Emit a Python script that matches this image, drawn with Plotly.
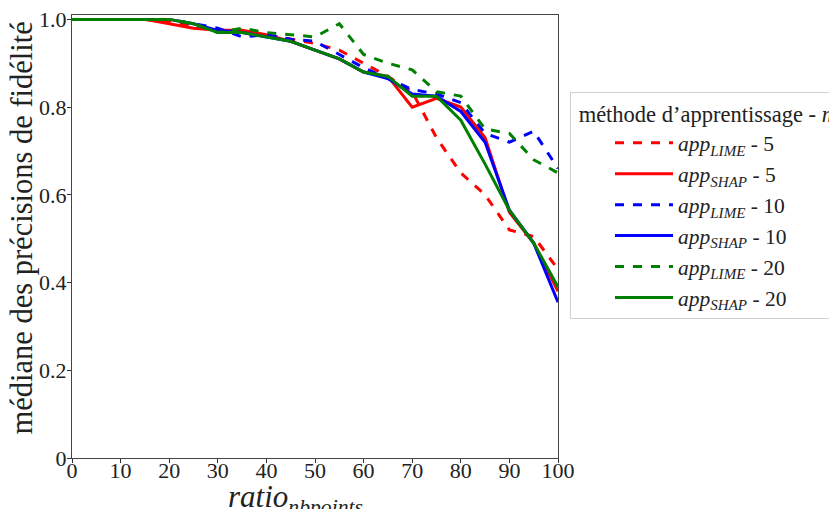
import plotly.graph_objects as go

ratio = [0, 5, 10, 15, 20, 25, 30, 35, 40, 45, 50, 55, 60, 65, 70, 75, 80, 85, 90, 95, 100]

lime_5 = [1.0, 1.0, 1.0, 1.0, 0.995, 0.985, 0.975, 0.975, 0.965, 0.955, 0.945, 0.93, 0.90, 0.87, 0.835, 0.73, 0.65, 0.60, 0.52, 0.505, 0.43]
shap_5 = [1.0, 1.0, 1.0, 1.0, 0.99, 0.98, 0.975, 0.975, 0.965, 0.95, 0.93, 0.91, 0.88, 0.87, 0.80, 0.82, 0.80, 0.73, 0.56, 0.49, 0.38]
lime_10 = [1.0, 1.0, 1.0, 1.0, 1.0, 0.99, 0.98, 0.96, 0.965, 0.955, 0.95, 0.92, 0.89, 0.865, 0.84, 0.83, 0.81, 0.74, 0.72, 0.745, 0.66]
shap_10 = [1.0, 1.0, 1.0, 1.0, 1.0, 0.99, 0.975, 0.97, 0.96, 0.95, 0.93, 0.91, 0.88, 0.865, 0.83, 0.825, 0.79, 0.72, 0.565, 0.49, 0.355]
lime_20 = [1.0, 1.0, 1.0, 1.0, 1.0, 0.99, 0.97, 0.98, 0.97, 0.965, 0.96, 0.99, 0.92, 0.90, 0.885, 0.835, 0.825, 0.75, 0.74, 0.68, 0.65]
shap_20 = [1.0, 1.0, 1.0, 1.0, 1.0, 0.99, 0.97, 0.97, 0.96, 0.95, 0.93, 0.91, 0.88, 0.87, 0.825, 0.825, 0.77, 0.67, 0.565, 0.49, 0.39]

x_ticks = [0, 10, 20, 30, 40, 50, 60, 70, 80, 90, 100]
y_ticks = [0, 0.2, 0.4, 0.6, 0.8, 1.0]
y_tick_labels = ["0", "0.2", "0.4", "0.6", "0.8", "1.0"]

series = [
    ("<i>app</i><sub><i>LIME</i></sub> - 5", lime_5, "red", "dash"),
    ("<i>app</i><sub><i>SHAP</i></sub> - 5", shap_5, "red", "solid"),
    ("<i>app</i><sub><i>LIME</i></sub> - 10", lime_10, "blue", "dash"),
    ("<i>app</i><sub><i>SHAP</i></sub> - 10", shap_10, "blue", "solid"),
    ("<i>app</i><sub><i>LIME</i></sub> - 20", lime_20, "green", "dash"),
    ("<i>app</i><sub><i>SHAP</i></sub> - 20", shap_20, "green", "solid"),
]

FONT = "Liberation Serif"
W, H = 829, 501  # page body has an 8px margin in the 837x509 window

fig = go.Figure()
for name, vals, color, dash in series:
    fig.add_trace(go.Scatter(
        x=ratio, y=vals, mode="lines", name=name,
        line=dict(color=color, width=3, dash=dash),
    ))

axis_common = dict(
    showgrid=False, zeroline=False, showline=True, mirror=True, automargin=False,
    linecolor="#444", linewidth=1.3, ticks="outside", ticklen=4,
    tickcolor="#333", tickfont=dict(family=FONT, size=22, color="#222"),
    ticklabeloverflow="allow",
)

fig.update_layout(
    width=W, height=H,
    margin=dict(l=64, r=279, t=7, b=51),
    paper_bgcolor="white", plot_bgcolor="white",
    font=dict(family=FONT, color="#222"),
    xaxis=dict(range=[0, 100], tickvals=x_ticks, ticklabelstandoff=-12, **axis_common),
    yaxis=dict(range=[0, 1.01], tickvals=y_ticks, ticktext=y_tick_labels,
               ticklabelstandoff=-4, **axis_common),
    legend=dict(
        xref="container", yref="container",
        x=562 / W, y=1 - 84 / H, xanchor="left", yanchor="top",
        bgcolor="white", bordercolor="#d0d0d0", borderwidth=1,
        font=dict(family=FONT, size=21.5, color="#222"),
        title=dict(text="\u00a0méthode d’apprentissage - <i>m</i>", font=dict(family=FONT, size=22.5)),
        indentation=39,
        itemwidth=58,
    ),
    annotations=[
        dict(text="<i>ratio</i><sub><i>nbpoints</i></sub>", xref="paper", yref="paper",
             x=0.5, y=0, xanchor="center", yanchor="top", yshift=-19, xshift=-20,
             showarrow=False, font=dict(family=FONT, size=31, color="#222")),
        dict(text="médiane des précisions de fidélité", xref="paper", yref="paper",
             x=0, y=0.518, xanchor="center", yanchor="middle", xshift=-50, textangle=-90,
             showarrow=False, font=dict(family=FONT, size=30.5, color="#222")),
    ],
)

fig.write_html("out.html")
